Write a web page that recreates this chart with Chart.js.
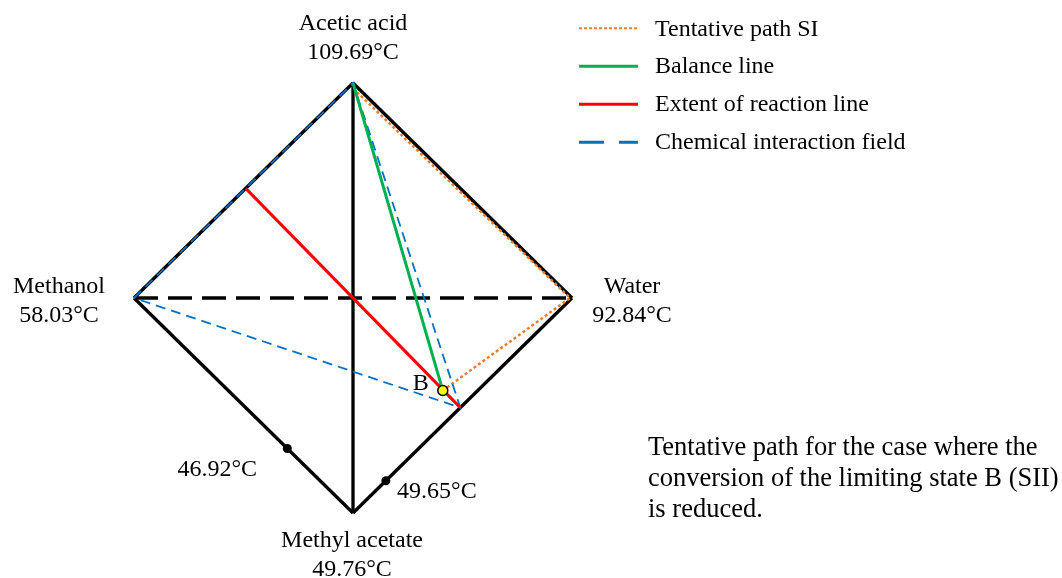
<!DOCTYPE html>
<html>
<head>
<meta charset="utf-8">
<script src="https://cdn.jsdelivr.net/npm/chart.js@4/dist/chart.umd.min.js"></script>
<style>
  html, body { margin: 0; padding: 0; background: #fff; overflow: hidden; }
  canvas { display: block; }
</style>
</head>
<body>
<canvas id="c" width="1062" height="578"></canvas>
<script>
// Tetrahedron projection: vertices of the diamond (x, y in composition space)
const vertexNames = ['Acetic acid', 'Methanol', 'Water', 'Methyl acetate'];
const vertexTemps = ['109.69°C', '58.03°C', '92.84°C', '49.76°C'];
const vertexX = [0, -1, 1, 0];
const vertexY = [1, 0, 0, -1];

// Binary azeotropes on the lower edges
const azeoTemps = ['46.92°C', '49.65°C'];
const azeoX = [-0.30, 0.15];
const azeoY = [-0.70, -0.85];

// Extent of reaction line
const reactionX = [-0.49, 0.49];
const reactionY = [0.51, -0.51];

// Limiting state B
const stateB = { label: 'B', x: 0.41, y: -0.43 };

// Balance line: acetic acid -> B
const balanceX = [0, 0.41];
const balanceY = [1, -0.43];

// Chemical interaction field: methanol -> acetic acid -> edge point -> methanol
const fieldX = [-1, 0, 0.49, -1];
const fieldY = [0, 1, -0.51, 0];

// Tentative path SI: acetic acid -> water -> B
const pathX = [0.018, 0.991, 0.41];
const pathY = [0.958, 0, -0.43];

const noteLines = [
  'Tentative path for the case where the',
  'conversion of the limiting state B (SII)',
  'is reduced.'
];

const pts = (xs, ys) => xs.map((x, i) => ({ x, y: ys[i] }));
const seg = (a, b) => [{ x: vertexX[a], y: vertexY[a] }, { x: vertexX[b], y: vertexY[b] }];

const FONT = '"Liberation Serif", "Times New Roman", serif';
const BLACK = '#000000';

const lineDs = (data, color, width, dash, extra) => Object.assign({
  data, showLine: true, borderColor: color, backgroundColor: color,
  borderWidth: width, borderDash: dash || [], pointRadius: 0, fill: false,
  tension: 0, borderCapStyle: 'butt', borderJoinStyle: 'miter'
}, extra || {});

const EDGE_W = 3.3;

// "order": higher values are painted first (underneath)
const datasets = [
  // frame
  lineDs(seg(1, 0), BLACK, EDGE_W, null, { label: '_edge', order: 10 }),
  lineDs(seg(0, 2), BLACK, EDGE_W, null, { label: '_edge', order: 10 }),
  lineDs(seg(1, 3), BLACK, EDGE_W, null, { label: '_edge', order: 10 }),
  lineDs(seg(3, 2), BLACK, EDGE_W, null, { label: '_edge', order: 10 }),
  lineDs(seg(0, 3), BLACK, EDGE_W, null, { label: '_edge', order: 10 }),
  lineDs(seg(1, 2), BLACK, EDGE_W, [24, 10], { label: '_edge', order: 10 }),
  // legend series
  lineDs(pts(pathX, pathY), '#ED7D31', 2.5, [3, 2.5],
    { label: 'Tentative path SI', legend: true, legendDash: [3, 2], legendWidth: 2, order: 6 }),
  lineDs(pts(balanceX, balanceY), '#00B050', 3, null,
    { label: 'Balance line', legend: true, legendDash: [], legendWidth: 3, order: 4 }),
  lineDs(pts(reactionX, reactionY), '#FF0000', 3, null,
    { label: 'Extent of reaction line', legend: true, legendDash: [], legendWidth: 3, order: 3 }),
  lineDs(pts(fieldX, fieldY), '#0070C0', 1.8, [10, 6],
    { label: 'Chemical interaction field', legend: true, legendDash: [25, 15], legendWidth: 3, order: 5 }),
  // azeotrope points
  { label: '_azeo', data: pts(azeoX, azeoY), showLine: false, pointRadius: 4.5, order: 2,
    pointBackgroundColor: BLACK, pointBorderColor: BLACK, pointBorderWidth: 0 },
  // state B
  { label: '_B', data: [{ x: stateB.x, y: stateB.y }], showLine: false, pointRadius: 5, order: 1,
    pointBackgroundColor: '#FFFF00', pointBorderColor: BLACK, pointBorderWidth: 1.5 }
];

const legendItems = datasets.filter(d => d.legend);

const textPlugin = {
  id: 'annotText',
  afterDatasetsDraw(chart) {
    const { ctx, scales: { x, y } } = chart;
    const px = v => x.getPixelForValue(v);
    const py = v => y.getPixelForValue(v);
    ctx.save();
    ctx.fillStyle = BLACK;
    ctx.font = '24px ' + FONT;
    ctx.textBaseline = 'alphabetic';
    ctx.textAlign = 'center';

    // vertex labels: [dx, dy name baseline, dy temperature baseline]
    const offs = [
      [0, -53, -24],
      [-75, -5, 24],
      [60, -5, 24],
      [-1, 34, 62.5]
    ];
    vertexNames.forEach((n, i) => {
      const bx = px(vertexX[i]) + offs[i][0];
      ctx.fillText(n, bx, py(vertexY[i]) + offs[i][1]);
      ctx.fillText(vertexTemps[i], bx, py(vertexY[i]) + offs[i][2]);
    });

    // azeotrope temperatures
    const azOffs = [[-70, 27], [51, 17]];
    azeoTemps.forEach((t, i) => {
      ctx.fillText(t, px(azeoX[i]) + azOffs[i][0], py(azeoY[i]) + azOffs[i][1]);
    });

    // state B label
    ctx.fillText(stateB.label, px(stateB.x) - 22, py(stateB.y) - 0.5);

    // legend
    ctx.textAlign = 'left';
    legendItems.forEach((d, i) => {
      const yy = 28.3 + i * 38;
      ctx.beginPath();
      ctx.strokeStyle = d.borderColor;
      ctx.lineWidth = d.legendWidth;
      ctx.setLineDash(d.legendDash);
      ctx.moveTo(579, yy);
      ctx.lineTo(638, yy);
      ctx.stroke();
      ctx.setLineDash([]);
      ctx.fillText(d.label, 655, 35.5 + i * 37.7);
    });

    // note
    ctx.font = '26.5px ' + FONT;
    noteLines.forEach((l, i) => ctx.fillText(l, 648, 455 + i * 31));
    ctx.restore();
  }
};

// x: pixel = 353 + 219*x, y: pixel = 298 - 215*y over the full canvas
new Chart(document.getElementById('c'), {
  type: 'scatter',
  data: { datasets },
  options: {
    responsive: false,
    animation: false,
    layout: { padding: 0, autoPadding: false },
    plugins: { legend: { display: false }, tooltip: { enabled: false } },
    scales: {
      x: { type: 'linear', display: false, min: -353 / 219, max: (1062 - 353) / 219 },
      y: { type: 'linear', display: false, min: (298 - 578) / 215, max: 298 / 215 }
    }
  },
  plugins: [textPlugin]
});
</script>
</body>
</html>
